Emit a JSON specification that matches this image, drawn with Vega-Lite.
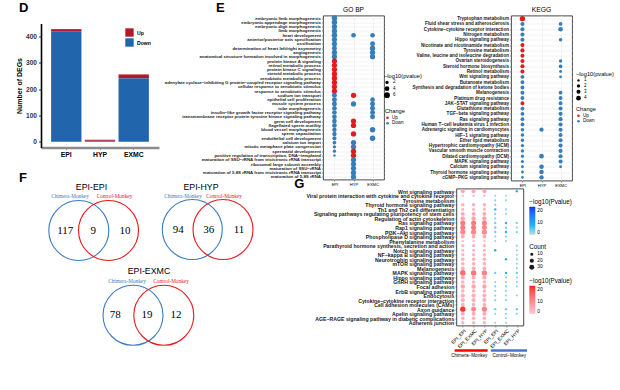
{
"$schema": "https://vega.github.io/schema/vega-lite/v6.json",
"padding": {"left": 15, "top": 1.5, "right": 0, "bottom": 0},
"background": "white",
"bounds": "full",
"spacing": -25.2,
"config": {
  "font": "Liberation Sans",
  "view": {"stroke": null},
  "axis": {"labelColor": "#000", "titleColor": "#000", "tickColor": "#333", "domainColor": "#333", "labelFont": "Liberation Sans", "titleFont": "Liberation Sans"},
  "legend": {"labelFont": "Liberation Sans", "titleFont": "Liberation Sans", "labelColor": "#000", "titleColor": "#000"},
  "title": {"font": "Liberation Sans", "color": "#000", "anchor": "start", "frame": "group"}
},
"datasets": {
  "deg": [
    {"tissue": "EPI", "change": "Down", "n": 420, "k": 0},
    {"tissue": "EPI", "change": "Up", "n": 8, "k": 1},
    {"tissue": "HYP", "change": "Down", "n": 4, "k": 0},
    {"tissue": "HYP", "change": "Up", "n": 4, "k": 1},
    {"tissue": "EXMC", "change": "Down", "n": 242, "k": 0},
    {"tissue": "EXMC", "change": "Up", "n": 14, "k": 1}
  ],
  "go": [
    {"t": "embryonic limb morphogenesis", "g": "EPI", "c": "Down", "p": 5.5},
    {"t": "embryonic appendage morphogenesis", "g": "EPI", "c": "Down", "p": 5.5},
    {"t": "embryonic digit morphogenesis", "g": "EPI", "c": "Down", "p": 5},
    {"t": "limb morphogenesis", "g": "EPI", "c": "Down", "p": 5},
    {"t": "heart development", "g": "EPI", "c": "Down", "p": 5.5},
    {"t": "anterior/posterior axis specification", "g": "EPI", "c": "Down", "p": 5},
    {"t": "ossification", "g": "EPI", "c": "Down", "p": 5},
    {"t": "determination of heart left/right asymmetry", "g": "EPI", "c": "Down", "p": 4.5},
    {"t": "angiogenesis", "g": "EPI", "c": "Down", "p": 5},
    {"t": "anatomical structure formation involved in morphogenesis", "g": "EPI", "c": "Down", "p": 5},
    {"t": "protein kinase A signaling", "g": "EPI", "c": "Up", "p": 5},
    {"t": "retinol metabolic process", "g": "EPI", "c": "Up", "p": 5},
    {"t": "protein kinase C signaling", "g": "EPI", "c": "Up", "p": 5},
    {"t": "steroid metabolic process", "g": "EPI", "c": "Up", "p": 5},
    {"t": "xenobiotic metabolic process", "g": "EPI", "c": "Up", "p": 5},
    {"t": "adenylate cyclase−inhibiting G protein−coupled receptor signaling pathway", "g": "EPI", "c": "Up", "p": 5},
    {"t": "cellular response to xenobiotic stimulus", "g": "EPI", "c": "Up", "p": 5},
    {"t": "response to xenobiotic stimulus", "g": "EPI", "c": "Up", "p": 5},
    {"t": "sodium ion transport", "g": "EPI", "c": "Down", "p": 4.5},
    {"t": "epithelial cell proliferation", "g": "EPI", "c": "Down", "p": 4.5},
    {"t": "muscle system process", "g": "EPI", "c": "Down", "p": 4.5},
    {"t": "tube morphogenesis", "g": "EPI", "c": "Down", "p": 4},
    {"t": "insulin−like growth factor receptor signaling pathway", "g": "EPI", "c": "Down", "p": 4},
    {"t": "transmembrane receptor protein tyrosine kinase signaling pathway", "g": "EPI", "c": "Down", "p": 4},
    {"t": "germ cell development", "g": "EPI", "c": "Down", "p": 4},
    {"t": "flagellated sperm motility", "g": "EPI", "c": "Down", "p": 4},
    {"t": "blood vessel morphogenesis", "g": "EPI", "c": "Down", "p": 3.5},
    {"t": "sperm capacitation", "g": "EPI", "c": "Down", "p": 3.5},
    {"t": "endothelial cell development", "g": "EPI", "c": "Down", "p": 3},
    {"t": "calcium ion import", "g": "EPI", "c": "Down", "p": 2.5},
    {"t": "mitotic metaphase plate congression", "g": "EPI", "c": "Down", "p": 2},
    {"t": "spermatid development", "g": "EPI", "c": "Down", "p": 2},
    {"t": "positive regulation of transcription, DNA−templated", "g": "EPI", "c": "Down", "p": 1},
    {"t": "heart development", "g": "HYP", "c": "Down", "p": 4},
    {"t": "sodium ion transport", "g": "HYP", "c": "Up", "p": 5},
    {"t": "muscle system process", "g": "HYP", "c": "Down", "p": 5},
    {"t": "germ cell development", "g": "HYP", "c": "Up", "p": 5},
    {"t": "flagellated sperm motility", "g": "HYP", "c": "Up", "p": 5},
    {"t": "sperm capacitation", "g": "HYP", "c": "Up", "p": 5},
    {"t": "calcium ion import", "g": "HYP", "c": "Down", "p": 5},
    {"t": "mitotic metaphase plate congression", "g": "HYP", "c": "Down", "p": 5},
    {"t": "spermatid development", "g": "HYP", "c": "Up", "p": 5},
    {"t": "positive regulation of transcription, DNA−templated", "g": "HYP", "c": "Up", "p": 5},
    {"t": "maturation of SSU−rRNA from tricistronic rRNA transcript", "g": "HYP", "c": "Down", "p": 5},
    {"t": "ribosomal large subunit assembly", "g": "HYP", "c": "Down", "p": 5},
    {"t": "maturation of SSU−rRNA", "g": "HYP", "c": "Down", "p": 5},
    {"t": "maturation of 5.8S rRNA from tricistronic rRNA transcript", "g": "HYP", "c": "Down", "p": 5},
    {"t": "maturation of 5.8S rRNA", "g": "HYP", "c": "Down", "p": 5},
    {"t": "heart development", "g": "EXMC", "c": "Down", "p": 4},
    {"t": "ossification", "g": "EXMC", "c": "Down", "p": 4.5},
    {"t": "determination of heart left/right asymmetry", "g": "EXMC", "c": "Down", "p": 5},
    {"t": "angiogenesis", "g": "EXMC", "c": "Down", "p": 5},
    {"t": "anatomical structure formation involved in morphogenesis", "g": "EXMC", "c": "Down", "p": 5},
    {"t": "epithelial cell proliferation", "g": "EXMC", "c": "Down", "p": 4},
    {"t": "muscle system process", "g": "EXMC", "c": "Down", "p": 4.5},
    {"t": "tube morphogenesis", "g": "EXMC", "c": "Down", "p": 4.5},
    {"t": "insulin−like growth factor receptor signaling pathway", "g": "EXMC", "c": "Down", "p": 4.5},
    {"t": "transmembrane receptor protein tyrosine kinase signaling pathway", "g": "EXMC", "c": "Down", "p": 4.5},
    {"t": "blood vessel morphogenesis", "g": "EXMC", "c": "Down", "p": 5.5},
    {"t": "endothelial cell development", "g": "EXMC", "c": "Down", "p": 5.5}
  ],
  "kg": [
    {"t": "Tryptophan metabolism", "g": "EPI", "c": "Up", "p": 5},
    {"t": "Fluid shear stress and atherosclerosis", "g": "EPI", "c": "Down", "p": 3},
    {"t": "Cytokine−cytokine receptor interaction", "g": "EPI", "c": "Down", "p": 3},
    {"t": "Nitrogen metabolism", "g": "EPI", "c": "Down", "p": 3},
    {"t": "Hippo signaling pathway", "g": "EPI", "c": "Down", "p": 3},
    {"t": "Nicotinate and nicotinamide metabolism", "g": "EPI", "c": "Up", "p": 3},
    {"t": "Tyrosine metabolism", "g": "EPI", "c": "Up", "p": 3.2},
    {"t": "Valine, leucine and isoleucine degradation", "g": "EPI", "c": "Up", "p": 3},
    {"t": "Ovarian steroidogenesis", "g": "EPI", "c": "Up", "p": 3},
    {"t": "Steroid hormone biosynthesis", "g": "EPI", "c": "Up", "p": 3},
    {"t": "Retinol metabolism", "g": "EPI", "c": "Up", "p": 3},
    {"t": "Wnt signaling pathway", "g": "EPI", "c": "Down", "p": 2.8},
    {"t": "Butanoate metabolism", "g": "EPI", "c": "Down", "p": 2.8},
    {"t": "Synthesis and degradation of ketone bodies", "g": "EPI", "c": "Down", "p": 2.8},
    {"t": "Melanogenesis", "g": "EPI", "c": "Down", "p": 2.8},
    {"t": "Platinum drug resistance", "g": "EPI", "c": "Down", "p": 2.8},
    {"t": "JAK−STAT signaling pathway", "g": "EPI", "c": "Up", "p": 2.8},
    {"t": "Glutathione metabolism", "g": "EPI", "c": "Down", "p": 2.6},
    {"t": "TGF−beta signaling pathway", "g": "EPI", "c": "Down", "p": 2.6},
    {"t": "Ras signaling pathway", "g": "EPI", "c": "Down", "p": 2.5},
    {"t": "Human T−cell leukemia virus 1 infection", "g": "EPI", "c": "Down", "p": 2.5},
    {"t": "Adrenergic signaling in cardiomyocytes", "g": "EPI", "c": "Down", "p": 2.3},
    {"t": "HIF−1 signaling pathway", "g": "EPI", "c": "Down", "p": 2.3},
    {"t": "Ether lipid metabolism", "g": "EPI", "c": "Down", "p": 2.2},
    {"t": "Hypertrophic cardiomyopathy (HCM)", "g": "EPI", "c": "Down", "p": 2},
    {"t": "Vascular smooth muscle contraction", "g": "EPI", "c": "Down", "p": 2},
    {"t": "Dilated cardiomyopathy (DCM)", "g": "EPI", "c": "Down", "p": 1.8},
    {"t": "MAPK signaling pathway", "g": "EPI", "c": "Down", "p": 1.8},
    {"t": "Calcium signaling pathway", "g": "EPI", "c": "Down", "p": 1.5},
    {"t": "Thyroid hormone signaling pathway", "g": "EPI", "c": "Down", "p": 1.5},
    {"t": "cGMP−PKG signaling pathway", "g": "EPI", "c": "Down", "p": 1.3},
    {"t": "Adrenergic signaling in cardiomyocytes", "g": "HYP", "c": "Down", "p": 3.3},
    {"t": "Dilated cardiomyopathy (DCM)", "g": "HYP", "c": "Down", "p": 4},
    {"t": "Calcium signaling pathway", "g": "HYP", "c": "Down", "p": 3.8},
    {"t": "Thyroid hormone signaling pathway", "g": "HYP", "c": "Down", "p": 3.8},
    {"t": "cGMP−PKG signaling pathway", "g": "HYP", "c": "Down", "p": 3.5},
    {"t": "Fluid shear stress and atherosclerosis", "g": "EXMC", "c": "Down", "p": 2.5},
    {"t": "Cytokine−cytokine receptor interaction", "g": "EXMC", "c": "Down", "p": 3.8},
    {"t": "Hippo signaling pathway", "g": "EXMC", "c": "Down", "p": 2.2},
    {"t": "Ovarian steroidogenesis", "g": "EXMC", "c": "Down", "p": 2},
    {"t": "Steroid hormone biosynthesis", "g": "EXMC", "c": "Down", "p": 2.6},
    {"t": "Retinol metabolism", "g": "EXMC", "c": "Down", "p": 1.5},
    {"t": "Wnt signaling pathway", "g": "EXMC", "c": "Down", "p": 1.5},
    {"t": "Melanogenesis", "g": "EXMC", "c": "Down", "p": 2.5},
    {"t": "Platinum drug resistance", "g": "EXMC", "c": "Down", "p": 2.8},
    {"t": "JAK−STAT signaling pathway", "g": "EXMC", "c": "Down", "p": 2.8},
    {"t": "Glutathione metabolism", "g": "EXMC", "c": "Down", "p": 3},
    {"t": "TGF−beta signaling pathway", "g": "EXMC", "c": "Down", "p": 3},
    {"t": "Ras signaling pathway", "g": "EXMC", "c": "Down", "p": 3},
    {"t": "Human T−cell leukemia virus 1 infection", "g": "EXMC", "c": "Down", "p": 3},
    {"t": "Adrenergic signaling in cardiomyocytes", "g": "EXMC", "c": "Down", "p": 3},
    {"t": "HIF−1 signaling pathway", "g": "EXMC", "c": "Down", "p": 3},
    {"t": "Ether lipid metabolism", "g": "EXMC", "c": "Down", "p": 3},
    {"t": "Hypertrophic cardiomyopathy (HCM)", "g": "EXMC", "c": "Down", "p": 3},
    {"t": "Vascular smooth muscle contraction", "g": "EXMC", "c": "Down", "p": 3},
    {"t": "Dilated cardiomyopathy (DCM)", "g": "EXMC", "c": "Down", "p": 3},
    {"t": "MAPK signaling pathway", "g": "EXMC", "c": "Down", "p": 3},
    {"t": "Calcium signaling pathway", "g": "EXMC", "c": "Down", "p": 1.5}
  ],
  "vc": [
    {"side": "Chimera", "cx": 37.8, "cy": 42}, {"side": "Control", "cx": 67.5, "cy": 42},
    {"side": "Chimera", "cx": 151.3, "cy": 41}, {"side": "Control", "cx": 182, "cy": 41},
    {"side": "Chimera", "cx": 92, "cy": 126.8}, {"side": "Control", "cx": 122.8, "cy": 126.8}
  ],
  "vn": [
    {"label": "117", "cx": 24.3, "cy": 42}, {"label": "9", "cx": 52.3, "cy": 42}, {"label": "10", "cx": 84, "cy": 42},
    {"label": "94", "cx": 137.3, "cy": 41}, {"label": "36", "cx": 167.7, "cy": 41}, {"label": "11", "cx": 198, "cy": 41},
    {"label": "78", "cx": 74.3, "cy": 126}, {"label": "19", "cx": 106, "cy": 126}, {"label": "12", "cx": 135, "cy": 126}
  ],
  "vt": [
    {"label": "EPI-EPI", "cx": 50.5, "cy": -1.7}, {"label": "EPI-HYP", "cx": 160, "cy": -1.7}, {"label": "EPI-EXMC", "cx": 108, "cy": 82.3}
  ],
  "vs": [
    {"label": "Chimera-Monkey", "side": "Chimera", "cx": 29, "cy": 7.3}, {"label": "Control-Monkey", "side": "Control", "cx": 73.5, "cy": 7.3},
    {"label": "Chimera-Monkey", "side": "Chimera", "cx": 142, "cy": 7.3}, {"label": "Control-Monkey", "side": "Control", "cx": 183, "cy": 7.3},
    {"label": "Chimera-Monkey", "side": "Chimera", "cx": 86, "cy": 92.3}, {"label": "Control-Monkey", "side": "Control", "cx": 130, "cy": 92.3}
  ],
  "gc": [
    {"pw": "Wnt signaling pathway", "col": "EPI_EPI|c", "p": 5, "n": 20}, {"pw": "Wnt signaling pathway", "col": "EPI_EXMC|c", "p": 5, "n": 20}, {"pw": "Wnt signaling pathway", "col": "EPI_HYP|c", "p": 5, "n": 20},
    {"pw": "Viral protein interaction with cytokine and cytokine receptor", "col": "EPI_EPI|c", "p": 2, "n": 5}, {"pw": "Viral protein interaction with cytokine and cytokine receptor", "col": "EPI_EXMC|c", "p": 2, "n": 5}, {"pw": "Viral protein interaction with cytokine and cytokine receptor", "col": "EPI_HYP|c", "p": 2, "n": 5},
    {"pw": "Thyroid hormone signaling pathway", "col": "EPI_EPI|c", "p": 4, "n": 14}, {"pw": "Thyroid hormone signaling pathway", "col": "EPI_EXMC|c", "p": 4, "n": 14}, {"pw": "Thyroid hormone signaling pathway", "col": "EPI_HYP|c", "p": 4, "n": 14},
    {"pw": "Th1 and Th2 cell differentiation", "col": "EPI_EPI|c", "p": 3, "n": 10}, {"pw": "Th1 and Th2 cell differentiation", "col": "EPI_EXMC|c", "p": 3, "n": 10}, {"pw": "Th1 and Th2 cell differentiation", "col": "EPI_HYP|c", "p": 3, "n": 10},
    {"pw": "Signaling pathways regulating pluripotency of stem cells", "col": "EPI_EPI|c", "p": 5, "n": 18}, {"pw": "Signaling pathways regulating pluripotency of stem cells", "col": "EPI_EXMC|c", "p": 5, "n": 18}, {"pw": "Signaling pathways regulating pluripotency of stem cells", "col": "EPI_HYP|c", "p": 5, "n": 18},
    {"pw": "Regulation of actin cytoskeleton", "col": "EPI_EPI|c", "p": 6, "n": 24}, {"pw": "Regulation of actin cytoskeleton", "col": "EPI_EXMC|c", "p": 6, "n": 24}, {"pw": "Regulation of actin cytoskeleton", "col": "EPI_HYP|c", "p": 6, "n": 24},
    {"pw": "Ras signaling pathway", "col": "EPI_EPI|c", "p": 13, "n": 32}, {"pw": "Ras signaling pathway", "col": "EPI_EXMC|c", "p": 13, "n": 32}, {"pw": "Ras signaling pathway", "col": "EPI_HYP|c", "p": 12, "n": 32},
    {"pw": "Rap1 signaling pathway", "col": "EPI_EPI|c", "p": 13, "n": 32}, {"pw": "Rap1 signaling pathway", "col": "EPI_EXMC|c", "p": 13, "n": 32}, {"pw": "Rap1 signaling pathway", "col": "EPI_HYP|c", "p": 12, "n": 30},
    {"pw": "PI3K−Akt signaling pathway", "col": "EPI_EPI|c", "p": 11, "n": 35}, {"pw": "PI3K−Akt signaling pathway", "col": "EPI_EXMC|c", "p": 11, "n": 35}, {"pw": "PI3K−Akt signaling pathway", "col": "EPI_HYP|c", "p": 10, "n": 35},
    {"pw": "Phospholipase D signaling pathway", "col": "EPI_EPI|c", "p": 5, "n": 18}, {"pw": "Phospholipase D signaling pathway", "col": "EPI_EXMC|c", "p": 5, "n": 18}, {"pw": "Phospholipase D signaling pathway", "col": "EPI_HYP|c", "p": 5, "n": 18},
    {"pw": "Phenylalanine metabolism", "col": "EPI_EPI|c", "p": 2, "n": 5}, {"pw": "Phenylalanine metabolism", "col": "EPI_EXMC|c", "p": 2, "n": 5}, {"pw": "Phenylalanine metabolism", "col": "EPI_HYP|c", "p": 2, "n": 5},
    {"pw": "Parathyroid hormone synthesis, secretion and action", "col": "EPI_EPI|c", "p": 3, "n": 12}, {"pw": "Parathyroid hormone synthesis, secretion and action", "col": "EPI_EXMC|c", "p": 3, "n": 12}, {"pw": "Parathyroid hormone synthesis, secretion and action", "col": "EPI_HYP|c", "p": 3, "n": 12},
    {"pw": "Notch signaling pathway", "col": "EPI_EPI|c", "p": 3, "n": 10}, {"pw": "Notch signaling pathway", "col": "EPI_EXMC|c", "p": 3, "n": 10}, {"pw": "Notch signaling pathway", "col": "EPI_HYP|c", "p": 3, "n": 10},
    {"pw": "NF−kappa B signaling pathway", "col": "EPI_EPI|c", "p": 3, "n": 12}, {"pw": "NF−kappa B signaling pathway", "col": "EPI_EXMC|c", "p": 3, "n": 12}, {"pw": "NF−kappa B signaling pathway", "col": "EPI_HYP|c", "p": 3, "n": 12},
    {"pw": "Neurotrophin signaling pathway", "col": "EPI_EPI|c", "p": 4, "n": 15}, {"pw": "Neurotrophin signaling pathway", "col": "EPI_EXMC|c", "p": 4, "n": 15}, {"pw": "Neurotrophin signaling pathway", "col": "EPI_HYP|c", "p": 4, "n": 15},
    {"pw": "mTOR signaling pathway", "col": "EPI_EPI|c", "p": 4, "n": 15}, {"pw": "mTOR signaling pathway", "col": "EPI_EXMC|c", "p": 4, "n": 15}, {"pw": "mTOR signaling pathway", "col": "EPI_HYP|c", "p": 4, "n": 15},
    {"pw": "Melanogenesis", "col": "EPI_EPI|c", "p": 5, "n": 16}, {"pw": "Melanogenesis", "col": "EPI_EXMC|c", "p": 5, "n": 16}, {"pw": "Melanogenesis", "col": "EPI_HYP|c", "p": 5, "n": 16},
    {"pw": "MAPK signaling pathway", "col": "EPI_EPI|c", "p": 15, "n": 38}, {"pw": "MAPK signaling pathway", "col": "EPI_EXMC|c", "p": 14, "n": 36}, {"pw": "MAPK signaling pathway", "col": "EPI_HYP|c", "p": 12, "n": 36},
    {"pw": "Hippo signaling pathway", "col": "EPI_EPI|c", "p": 5, "n": 20}, {"pw": "Hippo signaling pathway", "col": "EPI_EXMC|c", "p": 5, "n": 20}, {"pw": "Hippo signaling pathway", "col": "EPI_HYP|c", "p": 5, "n": 20},
    {"pw": "GnRH signaling pathway", "col": "EPI_EPI|c", "p": 4, "n": 14}, {"pw": "GnRH signaling pathway", "col": "EPI_EXMC|c", "p": 4, "n": 14}, {"pw": "GnRH signaling pathway", "col": "EPI_HYP|c", "p": 4, "n": 14},
    {"pw": "Focal adhesion", "col": "EPI_EPI|c", "p": 6, "n": 24}, {"pw": "Focal adhesion", "col": "EPI_EXMC|c", "p": 6, "n": 24}, {"pw": "Focal adhesion", "col": "EPI_HYP|c", "p": 6, "n": 24},
    {"pw": "ErbB signaling pathway", "col": "EPI_EPI|c", "p": 4, "n": 14}, {"pw": "ErbB signaling pathway", "col": "EPI_EXMC|c", "p": 4, "n": 14}, {"pw": "ErbB signaling pathway", "col": "EPI_HYP|c", "p": 4, "n": 14},
    {"pw": "Endocytosis", "col": "EPI_EPI|c", "p": 4, "n": 22}, {"pw": "Endocytosis", "col": "EPI_EXMC|c", "p": 4, "n": 22}, {"pw": "Endocytosis", "col": "EPI_HYP|c", "p": 4, "n": 22},
    {"pw": "Cytokine−cytokine receptor interaction", "col": "EPI_EPI|c", "p": 4, "n": 22}, {"pw": "Cytokine−cytokine receptor interaction", "col": "EPI_EXMC|c", "p": 4, "n": 22}, {"pw": "Cytokine−cytokine receptor interaction", "col": "EPI_HYP|c", "p": 4, "n": 22},
    {"pw": "Cell adhesion molecules (CAMs)", "col": "EPI_EPI|c", "p": 4, "n": 16}, {"pw": "Cell adhesion molecules (CAMs)", "col": "EPI_EXMC|c", "p": 4, "n": 16}, {"pw": "Cell adhesion molecules (CAMs)", "col": "EPI_HYP|c", "p": 4, "n": 16},
    {"pw": "Axon guidance", "col": "EPI_EPI|c", "p": 22, "n": 34}, {"pw": "Axon guidance", "col": "EPI_EXMC|c", "p": 11, "n": 30}, {"pw": "Axon guidance", "col": "EPI_HYP|c", "p": 12, "n": 32},
    {"pw": "Apelin signaling pathway", "col": "EPI_EPI|c", "p": 5, "n": 18}, {"pw": "Apelin signaling pathway", "col": "EPI_EXMC|c", "p": 5, "n": 18}, {"pw": "Apelin signaling pathway", "col": "EPI_HYP|c", "p": 5, "n": 18},
    {"pw": "AGE−RAGE signaling pathway in diabetic complications", "col": "EPI_EPI|c", "p": 4, "n": 14}, {"pw": "AGE−RAGE signaling pathway in diabetic complications", "col": "EPI_EXMC|c", "p": 4, "n": 14}, {"pw": "AGE−RAGE signaling pathway in diabetic complications", "col": "EPI_HYP|c", "p": 4, "n": 14},
    {"pw": "Adherens junction", "col": "EPI_EPI|c", "p": 3, "n": 12}, {"pw": "Adherens junction", "col": "EPI_EXMC|c", "p": 3, "n": 12}, {"pw": "Adherens junction", "col": "EPI_HYP|c", "p": 3, "n": 12}
  ],
  "gk": [
    {"pw": "Viral protein interaction with cytokine and cytokine receptor", "col": "EPI_EPI|k", "p": 2, "n": 3},
    {"pw": "Tyrosine metabolism", "col": "EPI_EPI|k", "p": 3, "n": 4},
    {"pw": "Thyroid hormone signaling pathway", "col": "EPI_EPI|k", "p": 3, "n": 4},
    {"pw": "Th1 and Th2 cell differentiation", "col": "EPI_EPI|k", "p": 8, "n": 5},
    {"pw": "Signaling pathways regulating pluripotency of stem cells", "col": "EPI_EPI|k", "p": 3, "n": 4},
    {"pw": "Regulation of actin cytoskeleton", "col": "EPI_EPI|k", "p": 3, "n": 4},
    {"pw": "Ras signaling pathway", "col": "EPI_EPI|k", "p": 4, "n": 5},
    {"pw": "Rap1 signaling pathway", "col": "EPI_EPI|k", "p": 4, "n": 5},
    {"pw": "PI3K−Akt signaling pathway", "col": "EPI_EPI|k", "p": 4, "n": 5},
    {"pw": "Phospholipase D signaling pathway", "col": "EPI_EPI|k", "p": 3, "n": 3},
    {"pw": "Phenylalanine metabolism", "col": "EPI_EPI|k", "p": 2, "n": 3},
    {"pw": "Notch signaling pathway", "col": "EPI_EPI|k", "p": 9, "n": 5},
    {"pw": "MAPK signaling pathway", "col": "EPI_EPI|k", "p": 4, "n": 5},
    {"pw": "GnRH signaling pathway", "col": "EPI_EPI|k", "p": 3, "n": 3},
    {"pw": "Focal adhesion", "col": "EPI_EPI|k", "p": 3, "n": 4},
    {"pw": "ErbB signaling pathway", "col": "EPI_EPI|k", "p": 3, "n": 3},
    {"pw": "Endocytosis", "col": "EPI_EPI|k", "p": 3, "n": 4},
    {"pw": "Cytokine−cytokine receptor interaction", "col": "EPI_EPI|k", "p": 3, "n": 4},
    {"pw": "Axon guidance", "col": "EPI_EPI|k", "p": 4, "n": 5},
    {"pw": "Apelin signaling pathway", "col": "EPI_EPI|k", "p": 3, "n": 3},
    {"pw": "Adherens junction", "col": "EPI_EPI|k", "p": 2, "n": 3},
    {"pw": "Viral protein interaction with cytokine and cytokine receptor", "col": "EPI_EXMC|k", "p": 2, "n": 3},
    {"pw": "Tyrosine metabolism", "col": "EPI_EXMC|k", "p": 3, "n": 3},
    {"pw": "Th1 and Th2 cell differentiation", "col": "EPI_EXMC|k", "p": 3, "n": 3},
    {"pw": "Signaling pathways regulating pluripotency of stem cells", "col": "EPI_EXMC|k", "p": 2, "n": 3},
    {"pw": "Ras signaling pathway", "col": "EPI_EXMC|k", "p": 8, "n": 5},
    {"pw": "Rap1 signaling pathway", "col": "EPI_EXMC|k", "p": 4, "n": 4},
    {"pw": "PI3K−Akt signaling pathway", "col": "EPI_EXMC|k", "p": 8, "n": 5},
    {"pw": "Phospholipase D signaling pathway", "col": "EPI_EXMC|k", "p": 3, "n": 3},
    {"pw": "Phenylalanine metabolism", "col": "EPI_EXMC|k", "p": 2, "n": 3},
    {"pw": "Neurotrophin signaling pathway", "col": "EPI_EXMC|k", "p": 8, "n": 5},
    {"pw": "MAPK signaling pathway", "col": "EPI_EXMC|k", "p": 8, "n": 5},
    {"pw": "Hippo signaling pathway", "col": "EPI_EXMC|k", "p": 3, "n": 3},
    {"pw": "GnRH signaling pathway", "col": "EPI_EXMC|k", "p": 3, "n": 3},
    {"pw": "Focal adhesion", "col": "EPI_EXMC|k", "p": 3, "n": 4},
    {"pw": "ErbB signaling pathway", "col": "EPI_EXMC|k", "p": 3, "n": 3},
    {"pw": "Endocytosis", "col": "EPI_EXMC|k", "p": 3, "n": 3},
    {"pw": "Cytokine−cytokine receptor interaction", "col": "EPI_EXMC|k", "p": 3, "n": 4},
    {"pw": "Axon guidance", "col": "EPI_EXMC|k", "p": 4, "n": 5},
    {"pw": "Apelin signaling pathway", "col": "EPI_EXMC|k", "p": 3, "n": 3},
    {"pw": "AGE−RAGE signaling pathway in diabetic complications", "col": "EPI_EXMC|k", "p": 2, "n": 3},
    {"pw": "Adherens junction", "col": "EPI_EXMC|k", "p": 2, "n": 3},
    {"pw": "Wnt signaling pathway", "col": "EPI_HYP|k", "p": 7, "n": 5},
    {"pw": "Ras signaling pathway", "col": "EPI_HYP|k", "p": 4, "n": 4},
    {"pw": "Rap1 signaling pathway", "col": "EPI_HYP|k", "p": 3, "n": 3},
    {"pw": "PI3K−Akt signaling pathway", "col": "EPI_HYP|k", "p": 4, "n": 4},
    {"pw": "Parathyroid hormone synthesis, secretion and action", "col": "EPI_HYP|k", "p": 3, "n": 3},
    {"pw": "Notch signaling pathway", "col": "EPI_HYP|k", "p": 3, "n": 3},
    {"pw": "NF−kappa B signaling pathway", "col": "EPI_HYP|k", "p": 3, "n": 3},
    {"pw": "Neurotrophin signaling pathway", "col": "EPI_HYP|k", "p": 3, "n": 3},
    {"pw": "mTOR signaling pathway", "col": "EPI_HYP|k", "p": 3, "n": 3},
    {"pw": "Melanogenesis", "col": "EPI_HYP|k", "p": 3, "n": 3},
    {"pw": "MAPK signaling pathway", "col": "EPI_HYP|k", "p": 4, "n": 5},
    {"pw": "Hippo signaling pathway", "col": "EPI_HYP|k", "p": 3, "n": 3},
    {"pw": "GnRH signaling pathway", "col": "EPI_HYP|k", "p": 3, "n": 3},
    {"pw": "Focal adhesion", "col": "EPI_HYP|k", "p": 3, "n": 3},
    {"pw": "Endocytosis", "col": "EPI_HYP|k", "p": 3, "n": 3},
    {"pw": "Axon guidance", "col": "EPI_HYP|k", "p": 4, "n": 5},
    {"pw": "Apelin signaling pathway", "col": "EPI_HYP|k", "p": 3, "n": 3}
  ],
  "gbar": [
    {"grp": "Chimera−Monkey", "from": 0.25, "to": 3.3, "mid": 1.6},
    {"grp": "Control−Monkey", "from": 3.6, "to": 6.95, "mid": 5.3}
  ]
},
"resolve": {"scale": {"color": "independent", "size": "independent"}},
"vconcat": [
  {
    "bounds": "flush",
    "spacing": 164,
    "resolve": {"scale": {"color": "independent", "size": "independent"}},
    "hconcat": [
      {
        "width": 118, "height": 132,
        "title": {"text": "D", "fontSize": 13, "fontWeight": "bold", "dx": -22, "offset": 0.5},
        "data": {"name": "deg"},
        "mark": {"type": "bar"},
        "encoding": {
          "x": {"field": "tissue", "type": "nominal", "sort": ["EPI", "HYP", "EXMC"], "scale": {"paddingInner": 0.1, "paddingOuter": 0.3},
                "axis": {"title": null, "labelAngle": 0, "labelFontSize": 6.8, "labelFontWeight": "bold", "domainColor": "#8c8c8c", "domainWidth": 2.5, "tickColor": "#8c8c8c", "tickSize": 2, "labelPadding": 2}},
          "y": {"field": "n", "type": "quantitative", "stack": "zero", "scale": {"domain": [-21.4, 449.4], "nice": false, "zero": false, "range": [132, 8]},
                "axis": {"values": [0, 100, 200, 300, 400], "title": "Number of DEGs", "titleFontSize": 7, "titleFontWeight": "bold", "labelFontSize": 6.6, "labelFontWeight": "bold", "labelColor": "#333", "domainColor": "#000", "domainWidth": 1.6, "tickColor": "#333", "tickSize": 2.5, "grid": false, "labelPadding": 2, "titlePadding": 3}},
          "color": {"field": "change", "type": "nominal", "scale": {"domain": ["Up", "Down"], "range": ["#B2182B", "#2166AC"]},
                    "legend": {"title": null, "orient": "none", "legendX": 84, "legendY": 12.5, "symbolType": "square", "symbolSize": 70, "labelFontSize": 5.1, "labelFontWeight": "bold", "rowPadding": 1, "symbolStrokeWidth": 0, "labelOffset": 3}},
          "order": {"field": "k"}
        }
      },
      {
        "title": {"text": "E", "fontSize": 13, "fontWeight": "bold", "dx": -107, "dy": 8.8, "offset": 0.5},
        "bounds": "flush",
        "spacing": 127,
        "resolve": {"scale": {"color": "independent", "size": "independent"}},
        "hconcat": [
          {
            "width": 61, "height": 164,
            "view": {"stroke": "#333", "strokeWidth": 0.9},
            "title": {"text": "GO BP", "anchor": "middle", "fontSize": 6.6, "fontWeight": "normal", "offset": 2},
            "data": {"name": "go"},
            "mark": {"type": "circle", "opacity": 1},
            "encoding": {
              "x": {"field": "g", "type": "nominal", "scale": {"type": "point", "domain": ["EPI", "HYP", "EXMC"], "padding": 0.6},
                    "axis": {"title": null, "labelAngle": 0, "labelFontSize": 4.1, "labelPadding": 1, "tickSize": 1.5, "tickWidth": 0.5, "domain": false, "grid": true, "gridColor": "#EBEBEB", "gridWidth": 0.6}},
              "y": {"field": "t", "type": "nominal", "scale": {"type": "point", "padding": 0.6, "domain": [
                "embryonic limb morphogenesis", "embryonic appendage morphogenesis", "embryonic digit morphogenesis", "limb morphogenesis", "heart development", "anterior/posterior axis specification", "ossification", "determination of heart left/right asymmetry", "angiogenesis", "anatomical structure formation involved in morphogenesis", "protein kinase A signaling", "retinol metabolic process", "protein kinase C signaling", "steroid metabolic process", "xenobiotic metabolic process", "adenylate cyclase−inhibiting G protein−coupled receptor signaling pathway", "cellular response to xenobiotic stimulus", "response to xenobiotic stimulus", "sodium ion transport", "epithelial cell proliferation", "muscle system process", "tube morphogenesis", "insulin−like growth factor receptor signaling pathway", "transmembrane receptor protein tyrosine kinase signaling pathway", "germ cell development", "flagellated sperm motility", "blood vessel morphogenesis", "sperm capacitation", "endothelial cell development", "calcium ion import", "mitotic metaphase plate congression", "spermatid development", "positive regulation of transcription, DNA−templated", "maturation of SSU−rRNA from tricistronic rRNA transcript", "ribosomal large subunit assembly", "maturation of SSU−rRNA", "maturation of 5.8S rRNA from tricistronic rRNA transcript", "maturation of 5.8S rRNA"]},
                    "axis": {"title": null, "labelFontSize": 4.35, "labelFontWeight": "bold", "labelColor": "#1a1a1a", "labelPadding": 1, "labelLimit": 0, "tickSize": 1.5, "tickWidth": 0.5, "domain": false, "grid": true, "gridColor": "#EBEBEB", "gridWidth": 0.6}},
              "size": {"field": "p", "type": "quantitative", "scale": {"domain": [0, 6], "range": [0, 33]},
                       "legend": {"title": "−log10(pvalue)", "orient": "none", "legendX": 61, "legendY": 57, "values": [2, 4, 6], "titleFontSize": 5.7, "titleFontWeight": "normal", "labelFontSize": 4.5, "symbolFillColor": "#000", "symbolStrokeWidth": 0, "rowPadding": 1, "titlePadding": 2, "labelOffset": 3}},
              "color": {"field": "c", "type": "nominal", "scale": {"domain": ["Up", "Down"], "range": ["#E41A1C", "#377EB8"]},
                        "legend": {"title": "Change", "orient": "none", "legendX": 62, "legendY": 92, "titleFontSize": 5.7, "titleFontWeight": "normal", "labelFontSize": 4.5, "symbolSize": 7, "symbolType": "circle", "rowPadding": 0.5, "titlePadding": 2, "labelOffset": 2}}
            }
          },
          {
            "width": 61, "height": 165,
            "view": {"stroke": "#333", "strokeWidth": 0.9},
            "title": {"text": "KEGG", "anchor": "middle", "fontSize": 6.8, "fontWeight": "normal", "offset": 2},
            "data": {"name": "kg"},
            "mark": {"type": "circle", "opacity": 1},
            "encoding": {
              "x": {"field": "g", "type": "nominal", "scale": {"type": "point", "domain": ["EPI", "HYP", "EXMC"], "padding": 0.6},
                    "axis": {"title": null, "labelAngle": 0, "labelFontSize": 4.1, "labelPadding": 1, "tickSize": 1.5, "tickWidth": 0.5, "domain": false, "grid": true, "gridColor": "#EBEBEB", "gridWidth": 0.6}},
              "y": {"field": "t", "type": "nominal", "scale": {"type": "point", "padding": 0.6, "domain": [
                "Tryptophan metabolism", "Fluid shear stress and atherosclerosis", "Cytokine−cytokine receptor interaction", "Nitrogen metabolism", "Hippo signaling pathway", "Nicotinate and nicotinamide metabolism", "Tyrosine metabolism", "Valine, leucine and isoleucine degradation", "Ovarian steroidogenesis", "Steroid hormone biosynthesis", "Retinol metabolism", "Wnt signaling pathway", "Butanoate metabolism", "Synthesis and degradation of ketone bodies", "Melanogenesis", "Platinum drug resistance", "JAK−STAT signaling pathway", "Glutathione metabolism", "TGF−beta signaling pathway", "Ras signaling pathway", "Human T−cell leukemia virus 1 infection", "Adrenergic signaling in cardiomyocytes", "HIF−1 signaling pathway", "Ether lipid metabolism", "Hypertrophic cardiomyopathy (HCM)", "Vascular smooth muscle contraction", "Dilated cardiomyopathy (DCM)", "MAPK signaling pathway", "Calcium signaling pathway", "Thyroid hormone signaling pathway", "cGMP−PKG signaling pathway"]},
                    "axis": {"title": null, "labelFontSize": 4.6, "labelFontWeight": "bold", "labelColor": "#1a1a1a", "labelPadding": 1, "labelLimit": 0, "tickSize": 1.5, "tickWidth": 0.5, "domain": false, "grid": true, "gridColor": "#EBEBEB", "gridWidth": 0.6}},
              "size": {"field": "p", "type": "quantitative", "scale": {"domain": [0, 4], "range": [0, 22]},
                       "legend": {"title": "−log10(pvalue)", "orient": "none", "legendX": 65, "legendY": 55, "values": [1, 2, 3, 4], "titleFontSize": 5.7, "titleFontWeight": "normal", "labelFontSize": 4.5, "symbolFillColor": "#000", "symbolStrokeWidth": 0, "rowPadding": 0.5, "titlePadding": 2, "labelOffset": 3}},
              "color": {"field": "c", "type": "nominal", "scale": {"domain": ["Up", "Down"], "range": ["#E41A1C", "#377EB8"]},
                        "legend": {"title": "Change", "orient": "none", "legendX": 65, "legendY": 90, "titleFontSize": 5.7, "titleFontWeight": "normal", "labelFontSize": 4.5, "symbolSize": 7, "symbolType": "circle", "rowPadding": 0.5, "titlePadding": 2, "labelOffset": 2}}
            }
          }
        ]
      }
    ]
  },
  {
    "bounds": "flush",
    "spacing": 155.3,
    "resolve": {"scale": {"color": "independent", "size": "independent"}},
    "hconcat": [
      {
        "width": 260, "height": 137,
        "title": {"text": "F", "fontSize": 13, "fontWeight": "bold", "dx": -22, "dy": 2, "offset": 0},
        "layer": [
          {
            "data": {"name": "vc"},
            "mark": {"type": "point", "shape": "circle", "filled": false, "size": 3600, "strokeWidth": 1.1, "opacity": 1},
            "encoding": {
              "x": {"field": "cx", "type": "quantitative", "scale": {"domain": [0, 260], "nice": false, "zero": false}, "axis": null},
              "y": {"field": "cy", "type": "quantitative", "scale": {"domain": [0, 137], "nice": false, "zero": false, "reverse": true}, "axis": null},
              "color": {"field": "side", "type": "nominal", "scale": {"domain": ["Chimera", "Control"], "range": ["#3A7DC0", "#E31A1C"]}, "legend": null}
            }
          },
          {
            "data": {"name": "vn"},
            "mark": {"type": "text", "font": "Liberation Serif", "fontSize": 11, "baseline": "middle", "align": "center", "color": "#000"},
            "encoding": {
              "x": {"field": "cx", "type": "quantitative"},
              "y": {"field": "cy", "type": "quantitative"},
              "text": {"field": "label"}
            }
          },
          {
            "data": {"name": "vt"},
            "mark": {"type": "text", "fontSize": 8.8, "baseline": "middle", "align": "center", "color": "#000"},
            "encoding": {
              "x": {"field": "cx", "type": "quantitative"},
              "y": {"field": "cy", "type": "quantitative"},
              "text": {"field": "label"}
            }
          },
          {
            "data": {"name": "vs"},
            "mark": {"type": "text", "font": "Liberation Serif", "fontSize": 5.3, "baseline": "middle", "align": "center"},
            "encoding": {
              "x": {"field": "cx", "type": "quantitative"},
              "y": {"field": "cy", "type": "quantitative"},
              "text": {"field": "label"},
              "color": {"field": "side", "type": "nominal", "legend": null}
            }
          }
        ]
      },
      {
        "width": 67, "height": 137,
        "title": {"text": "G", "fontSize": 13, "fontWeight": "bold", "dx": -162, "dy": 2, "offset": 0},
        "view": {"stroke": "#333", "strokeWidth": 0.9},
        "layer": [
          {
            "data": {"name": "gk"},
            "mark": {"type": "circle", "opacity": 0.9},
            "encoding": {
              "x": {"field": "col", "type": "nominal", "scale": {"type": "point", "domain": ["EPI_EPI|c", "EPI_EXMC|c", "EPI_HYP|c", "EPI_EPI|k", "EPI_EXMC|k", "EPI_HYP|k"], "padding": 0.6},
                    "axis": {"title": null, "labelAngle": -45, "labelExpr": "split(datum.value, '|')[0]", "labelFontSize": 4.8, "labelPadding": 1, "tickSize": 1.5, "tickWidth": 0.5, "domain": false, "grid": false}},
              "y": {"field": "pw", "type": "nominal", "scale": {"type": "point", "padding": 0.6, "domain": [
                "Wnt signaling pathway", "Viral protein interaction with cytokine and cytokine receptor", "Tyrosine metabolism", "Thyroid hormone signaling pathway", "Th1 and Th2 cell differentiation", "Signaling pathways regulating pluripotency of stem cells", "Regulation of actin cytoskeleton", "Ras signaling pathway", "Rap1 signaling pathway", "PI3K−Akt signaling pathway", "Phospholipase D signaling pathway", "Phenylalanine metabolism", "Parathyroid hormone synthesis, secretion and action", "Notch signaling pathway", "NF−kappa B signaling pathway", "Neurotrophin signaling pathway", "mTOR signaling pathway", "Melanogenesis", "MAPK signaling pathway", "Hippo signaling pathway", "GnRH signaling pathway", "Focal adhesion", "ErbB signaling pathway", "Endocytosis", "Cytokine−cytokine receptor interaction", "Cell adhesion molecules (CAMs)", "Axon guidance", "Apelin signaling pathway", "AGE−RAGE signaling pathway in diabetic complications", "Adherens junction"]},
                    "axis": {"title": null, "labelFontSize": 5.2, "labelFontWeight": "bold", "labelColor": "#1a1a1a", "labelPadding": 1, "labelLimit": 0, "tickSize": 1.5, "tickWidth": 0.5, "domain": false, "grid": false}},
              "size": {"field": "n", "type": "quantitative", "scale": {"domain": [0, 40], "range": [2, 32]},
                       "legend": {"title": "Count", "orient": "none", "legendX": 73, "legendY": 55, "values": [10, 20, 30], "titleFontSize": 6.3, "titleFontWeight": "normal", "labelFontSize": 4.8, "symbolFillColor": "#000", "symbolStrokeWidth": 0, "rowPadding": 0.5, "titlePadding": 2, "labelOffset": 3}},
              "color": {"field": "p", "type": "quantitative", "scale": {"domain": [0, 23.5], "range": ["#ADD8E6", "#0000FF"]},
                        "legend": {"title": "−log10(Pvalue)", "orient": "none", "legendX": 73, "legendY": 10, "values": [0, 5, 10, 15, 20], "gradientLength": 28, "gradientThickness": 6, "titleFontSize": 6.3, "titleFontWeight": "normal", "labelFontSize": 4.8, "titlePadding": 2, "labelOffset": 2}}
            }
          },
          {
            "data": {"name": "gc"},
            "mark": {"type": "circle", "opacity": 0.9},
            "encoding": {
              "x": {"field": "col", "type": "nominal", "scale": {"type": "point", "domain": ["EPI_EPI|c", "EPI_EXMC|c", "EPI_HYP|c", "EPI_EPI|k", "EPI_EXMC|k", "EPI_HYP|k"], "padding": 0.6}, "axis": null},
              "y": {"field": "pw", "type": "nominal", "scale": {"type": "point", "padding": 0.6, "domain": [
                "Wnt signaling pathway", "Viral protein interaction with cytokine and cytokine receptor", "Tyrosine metabolism", "Thyroid hormone signaling pathway", "Th1 and Th2 cell differentiation", "Signaling pathways regulating pluripotency of stem cells", "Regulation of actin cytoskeleton", "Ras signaling pathway", "Rap1 signaling pathway", "PI3K−Akt signaling pathway", "Phospholipase D signaling pathway", "Phenylalanine metabolism", "Parathyroid hormone synthesis, secretion and action", "Notch signaling pathway", "NF−kappa B signaling pathway", "Neurotrophin signaling pathway", "mTOR signaling pathway", "Melanogenesis", "MAPK signaling pathway", "Hippo signaling pathway", "GnRH signaling pathway", "Focal adhesion", "ErbB signaling pathway", "Endocytosis", "Cytokine−cytokine receptor interaction", "Cell adhesion molecules (CAMs)", "Axon guidance", "Apelin signaling pathway", "AGE−RAGE signaling pathway in diabetic complications", "Adherens junction"]}, "axis": null},
              "size": {"field": "n", "type": "quantitative"},
              "color": {"field": "p", "type": "quantitative", "scale": {"domain": [0, 23.5], "range": ["#FFC0CB", "#FF0000"]},
                        "legend": {"title": "−log10(Pvalue)", "orient": "none", "legendX": 73, "legendY": 89, "values": [0, 5, 10, 15, 20], "gradientLength": 28, "gradientThickness": 6, "titleFontSize": 6.3, "titleFontWeight": "normal", "labelFontSize": 4.8, "titlePadding": 2, "labelOffset": 2}}
            }
          },
          {
            "data": {"name": "gbar"},
            "mark": {"type": "rule", "strokeWidth": 2.5},
            "encoding": {
              "x": {"field": "from", "type": "quantitative", "scale": {"domain": [0.4, 6.6], "nice": false, "zero": false}, "axis": null},
              "x2": {"field": "to"},
              "y": {"datum": -0.1825, "type": "quantitative", "scale": {"domain": [0, 1], "nice": false, "zero": false}, "axis": null},
              "color": {"field": "grp", "type": "nominal", "scale": {"domain": ["Chimera−Monkey", "Control−Monkey"], "range": ["#FF0000", "#4A74C9"]}, "legend": null}
            }
          },
          {
            "data": {"name": "gbar"},
            "mark": {"type": "text", "fontSize": 4.6, "baseline": "middle", "align": "center", "color": "#000"},
            "encoding": {
              "x": {"field": "mid", "type": "quantitative", "scale": {"domain": [0.4, 6.6], "nice": false, "zero": false}, "axis": null},
              "y": {"datum": -0.2226, "type": "quantitative", "scale": {"domain": [0, 1], "nice": false, "zero": false}, "axis": null},
              "text": {"field": "grp"}
            }
          }
        ],
        "resolve": {"scale": {"color": "independent", "x": "independent", "y": "independent"}}
      }
    ]
  }
]
}
